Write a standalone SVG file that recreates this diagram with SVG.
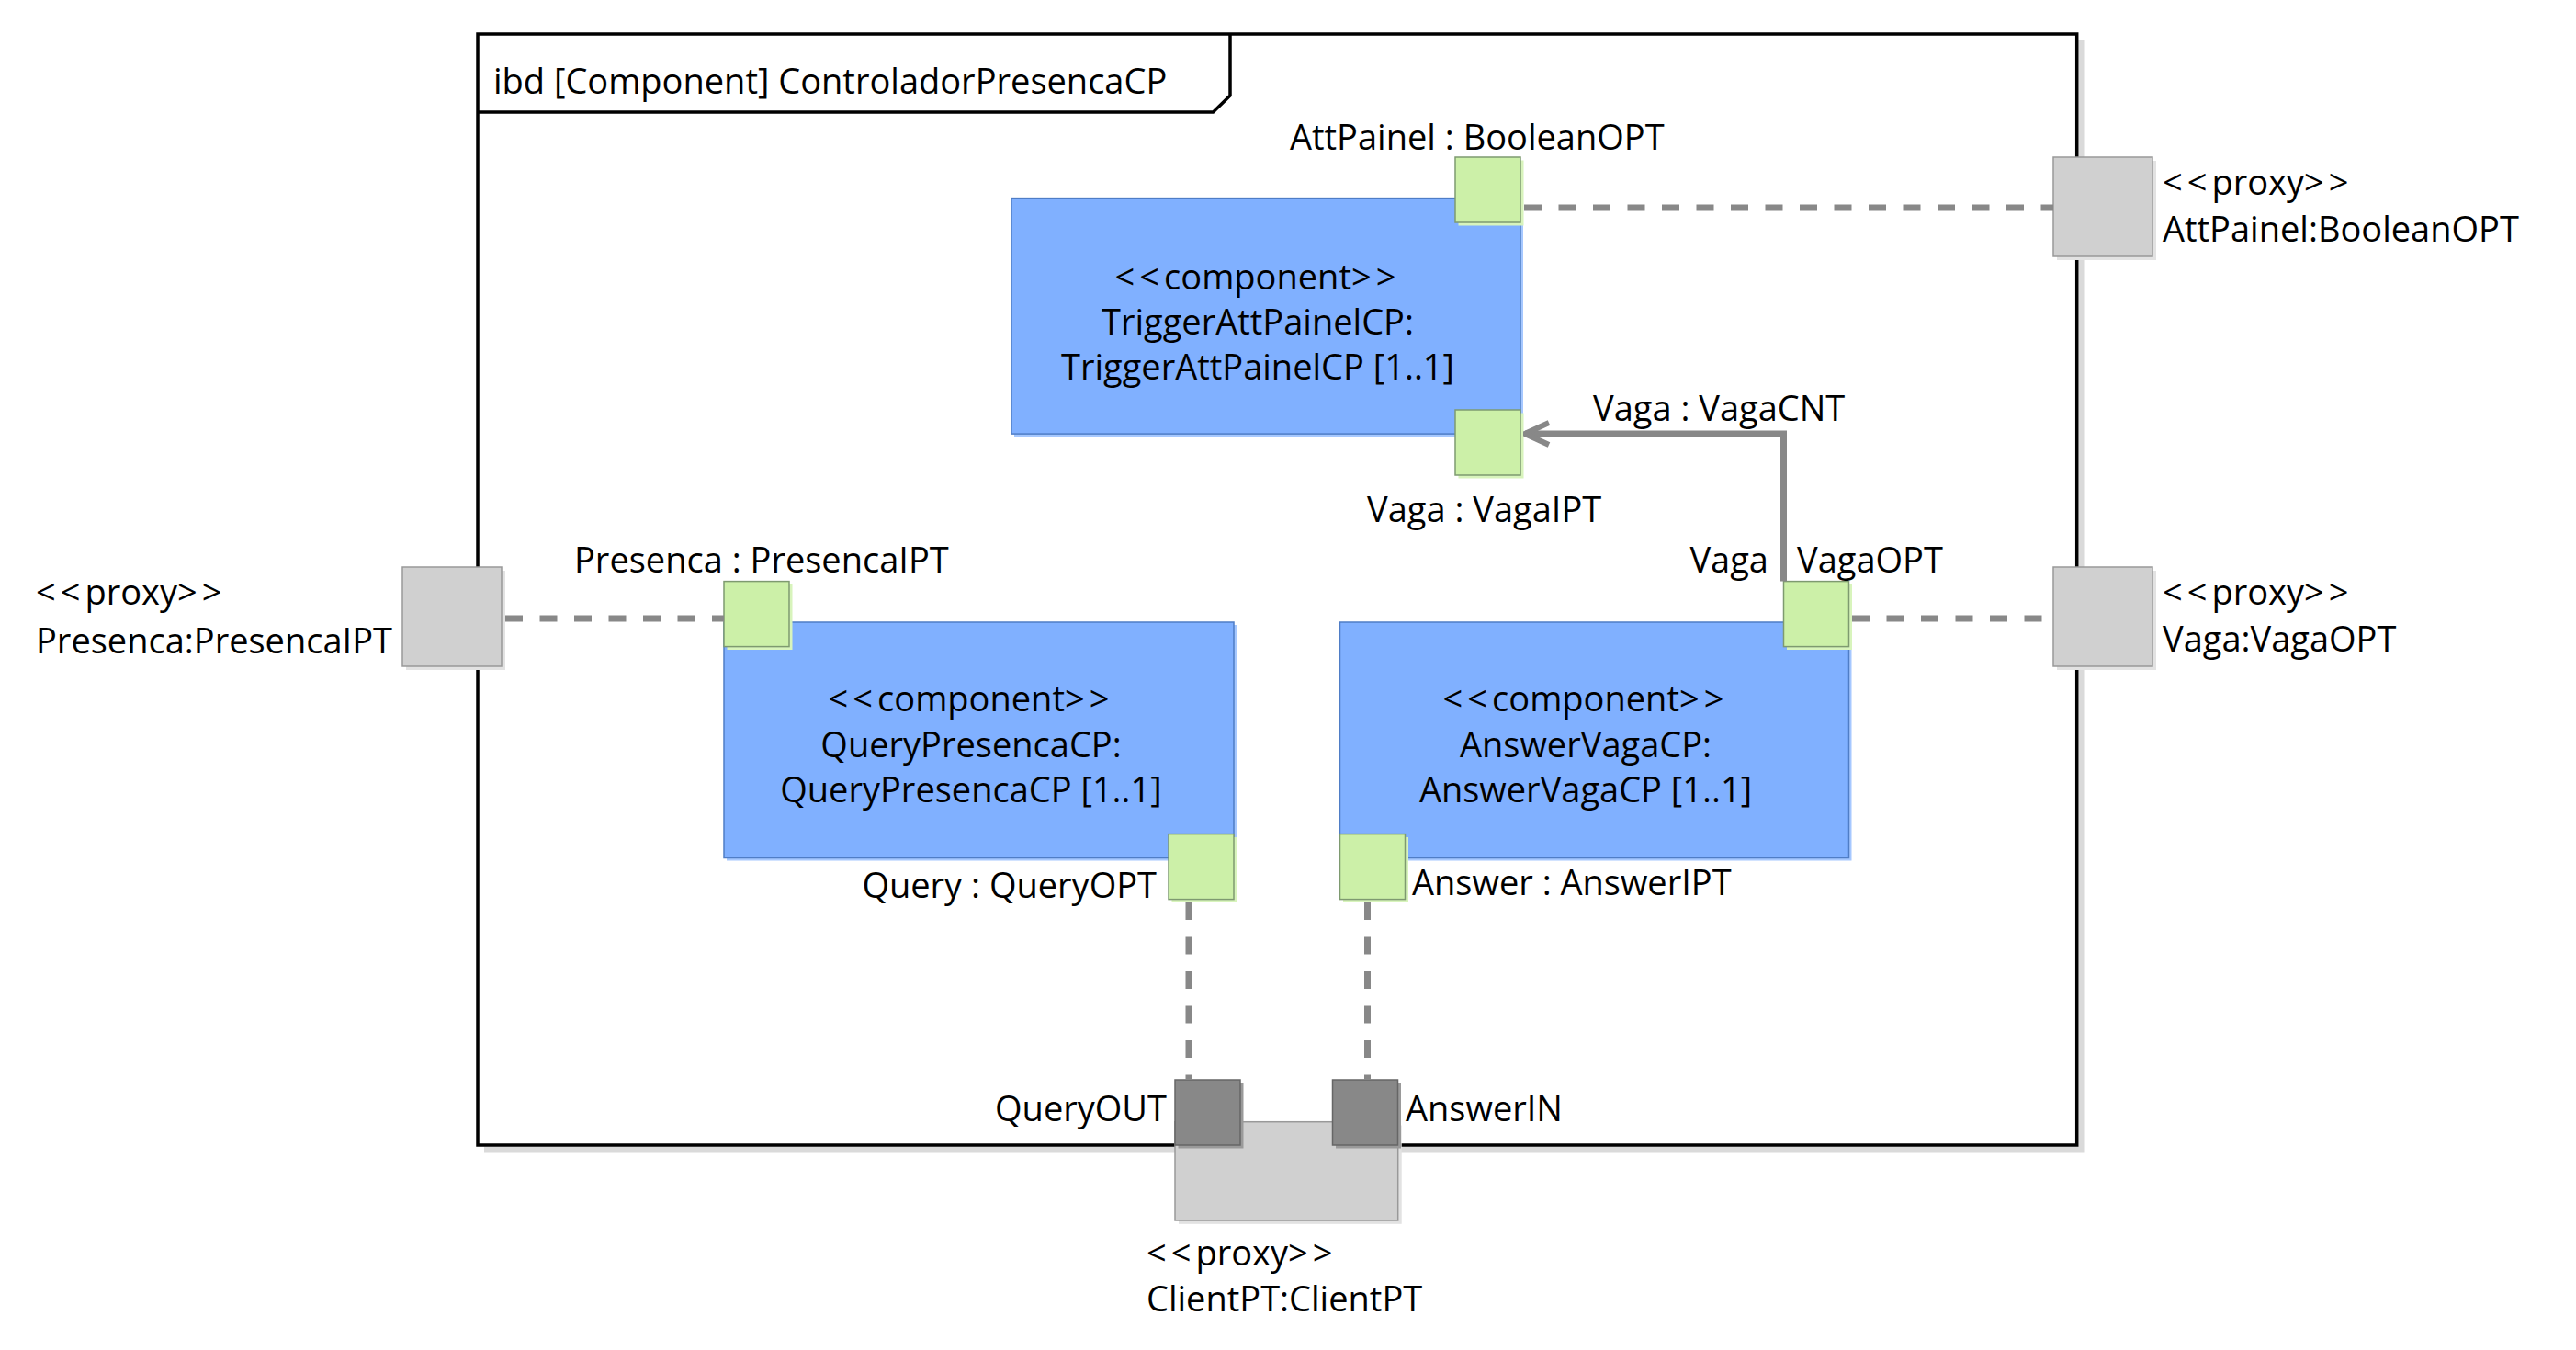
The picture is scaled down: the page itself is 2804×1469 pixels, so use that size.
<svg xmlns="http://www.w3.org/2000/svg" width="2804" height="1469" viewBox="0 0 2804 1469">
<defs>
<style>
text{font-family:"Open Sans","Noto Sans","DejaVu Sans",sans-serif;font-size:38px;fill:#000}
.mid{text-anchor:middle}
.end{text-anchor:end}
.br{letter-spacing:5px}
.comp{fill:#80B0FF;stroke:#4F7DC6;stroke-width:1.5}
.compsh{fill:#A6C8FF}
.port{fill:#CCF0A8;stroke:#7E9A70;stroke-width:1.5}
.portsh{fill:#D8F4BC}
.proxy{fill:#D0D0D0;stroke:#999;stroke-width:1.5}
.proxysh{fill:#E2E2E2}
.dport{fill:#888;stroke:#666;stroke-width:1.5}
.dash{stroke:#888;stroke-width:7;stroke-dasharray:19 18.5;fill:none}
.solid{stroke:#888;stroke-width:7;fill:none}
</style>
<marker id="open" viewBox="0 0 30 30" refX="28" refY="15" markerWidth="30" markerHeight="30" markerUnits="userSpaceOnUse" orient="auto">
<path d="M2,3 L28,15 L2,27" fill="none" stroke="#888" stroke-width="6"/>
</marker>
</defs>
<rect width="2804" height="1469" fill="#fff"/>

<g id="frame">
<path d="M2265,44 V1251 H527" fill="none" stroke="#DADADA" stroke-width="7"/>
<rect x="520" y="37" width="1740.7" height="1209" fill="none" stroke="#000" stroke-width="3.5"/>
<path d="M520,122 H1320.5 L1339,104 V37" fill="none" stroke="#000" stroke-width="3.5"/>
<text x="537" y="102">ibd [Component] ControladorPresencaCP</text>
</g>

<g id="TriggerAttPainelCP">
<rect class="compsh" x="1104" y="219" width="554" height="256.5"/>
<rect class="comp" x="1101" y="215.6" width="554" height="256.5"/>
<text class="mid" x="1369" y="315"><tspan class="br">&lt;&lt;</tspan>component<tspan class="br">&gt;&gt;</tspan></text>
<text class="mid" x="1369" y="364">TriggerAttPainelCP:</text>
<text class="mid" x="1369" y="413">TriggerAttPainelCP [1..1]</text>
</g>

<g id="QueryPresencaCP">
<rect class="compsh" x="791" y="680" width="555" height="256.5"/>
<rect class="comp" x="788" y="677" width="555" height="256.5"/>
<text class="mid" x="1057" y="774"><tspan class="br">&lt;&lt;</tspan>component<tspan class="br">&gt;&gt;</tspan></text>
<text class="mid" x="1057" y="824">QueryPresencaCP:</text>
<text class="mid" x="1057" y="873">QueryPresencaCP [1..1]</text>
</g>

<g id="AnswerVagaCP">
<rect class="compsh" x="1461.5" y="680" width="554" height="256.5"/>
<rect class="comp" x="1458.5" y="677" width="554" height="256.5"/>
<text class="mid" x="1726" y="774"><tspan class="br">&lt;&lt;</tspan>component<tspan class="br">&gt;&gt;</tspan></text>
<text class="mid" x="1726" y="824">AnswerVagaCP:</text>
<text class="mid" x="1726" y="873">AnswerVagaCP [1..1]</text>
</g>

<g id="port-AttPainel">
<rect class="portsh" x="1587.5" y="174.5" width="71" height="71"/>
<rect class="port" x="1584" y="171" width="71" height="71"/>
<text x="1404" y="163">AttPainel : BooleanOPT</text>
</g>

<g id="port-VagaIPT">
<rect class="portsh" x="1587.5" y="449.5" width="71" height="71"/>
<rect class="port" x="1584" y="446" width="71" height="71"/>
<text x="1488" y="568">Vaga : VagaIPT</text>
</g>

<g id="port-Presenca">
<rect class="portsh" x="791.5" y="636" width="71" height="71"/>
<rect class="port" x="788" y="632.6" width="71" height="71"/>
<text x="625" y="623">Presenca : PresencaIPT</text>
</g>

<g id="port-Query">
<rect class="portsh" x="1275.5" y="911" width="71" height="71"/>
<rect class="port" x="1272" y="907.6" width="71" height="71"/>
<text class="end" x="1259" y="977">Query : QueryOPT</text>
</g>

<g id="port-VagaOPT">
<rect class="portsh" x="1945" y="636" width="71" height="71"/>
<rect class="port" x="1941.5" y="632.6" width="71" height="71"/>
<text class="end" x="1925" y="623">Vaga</text>
<text x="1956" y="623">VagaOPT</text>
</g>

<g id="port-Answer">
<rect class="portsh" x="1462" y="911" width="71" height="71"/>
<rect class="port" x="1458.5" y="907.6" width="71" height="71"/>
<text x="1537" y="974">Answer : AnswerIPT</text>
</g>

<g id="proxy-AttPainel">
<rect class="proxysh" x="2239" y="175" width="108" height="108"/>
<rect class="proxy" x="2235" y="171" width="108" height="108"/>
<text x="2354" y="212"><tspan class="br">&lt;&lt;</tspan>proxy<tspan class="br">&gt;&gt;</tspan></text>
<text x="2354" y="263">AttPainel:BooleanOPT</text>
</g>

<g id="proxy-Vaga">
<rect class="proxysh" x="2239" y="621" width="108" height="108"/>
<rect class="proxy" x="2235" y="617" width="108" height="108"/>
<text x="2354" y="658"><tspan class="br">&lt;&lt;</tspan>proxy<tspan class="br">&gt;&gt;</tspan></text>
<text x="2354" y="709">Vaga:VagaOPT</text>
</g>

<g id="proxy-Presenca">
<rect class="proxysh" x="442" y="621" width="108" height="108"/>
<rect class="proxy" x="438" y="617" width="108" height="108"/>
<text x="39" y="658"><tspan class="br">&lt;&lt;</tspan>proxy<tspan class="br">&gt;&gt;</tspan></text>
<text x="39" y="711">Presenca:PresencaIPT</text>
</g>

<g id="proxy-ClientPT">
<rect class="proxysh" x="1283" y="1224.5" width="242.7" height="107.3"/>
<rect class="proxy" x="1279" y="1220.7" width="242.7" height="107.3"/>
<text x="1248" y="1377"><tspan class="br">&lt;&lt;</tspan>proxy<tspan class="br">&gt;&gt;</tspan></text>
<text x="1248" y="1427">ClientPT:ClientPT</text>
</g>

<g id="port-QueryOUT">
<rect fill="#9A9A9A" x="1282.5" y="1178.5" width="71" height="71"/>
<rect class="dport" x="1279" y="1175" width="71" height="71"/>
<text class="end" x="1270" y="1220">QueryOUT</text>
</g>

<g id="port-AnswerIN">
<rect fill="#9A9A9A" x="1454" y="1178.5" width="71" height="71"/>
<rect class="dport" x="1450.5" y="1175" width="71" height="71"/>
<text x="1530" y="1220">AnswerIN</text>
</g>

<g id="connectors">
<line class="dash" x1="1659" y1="226" x2="2235" y2="226"/>
<line class="dash" x1="550" y1="673" x2="788" y2="673"/>
<line class="dash" x1="2016" y1="673" x2="2235" y2="673"/>
<line class="dash" x1="1294" y1="982" x2="1294" y2="1175"/>
<line class="dash" x1="1488.5" y1="982" x2="1488.5" y2="1175"/>
<polyline class="solid" points="1941.5,632.6 1941.5,472 1660,472" marker-end="url(#open)"/>
<text x="1734" y="458">Vaga : VagaCNT</text>
</g>
</svg>
